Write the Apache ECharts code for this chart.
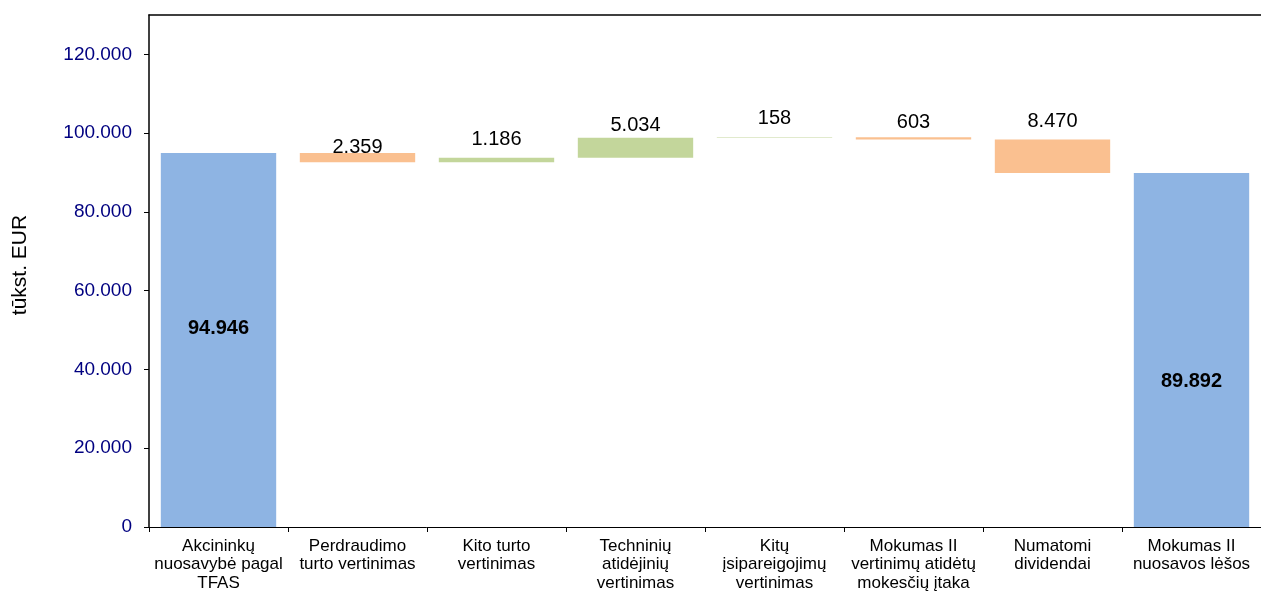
<!DOCTYPE html>
<html>
<head>
<meta charset="utf-8">
<script src="https://cdn.jsdelivr.net/npm/echarts@6/dist/echarts.min.js"></script>
<style>
  html, body { margin: 0; padding: 0; background: #fff; }
  #chart { width: 1261px; height: 591px; }
</style>
</head>
<body>
<div id="chart"></div>
<script>
// kategorijos
var categories = [
    'Akcininkų\nnuosavybė pagal\nTFAS',
    'Perdraudimo\nturto vertinimas',
    'Kito turto\nvertinimas',
    'Techninių\natidėjinių\nvertinimas',
    'Kitų\nįsipareigojimų\nvertinimas',
    'Mokumas II\nvertinimų atidėtų\nmokesčių įtaka',
    'Numatomi\ndividendai',
    'Mokumas II\nnuosavos lėšos'
];
var startValue = 94946;
var endValue = 89892;
// pokyčiai tarp pradžios ir pabaigos
var changes = [-2359, 1186, 5034, 158, -603, -8470];
var yTicks = [0, 20000, 40000, 60000, 80000, 100000, 120000];

function fmt(v) {
    return String(Math.abs(v)).replace(/\B(?=(\d{3})+(?!\d))/g, '.');
}

// pagalbinės eilės kriokliui
var base = ['-'], totals = [startValue], plus = ['-'], minus = ['-'];
var level = startValue;
changes.forEach(function (c) {
    if (c >= 0) {
        base.push(level);
        plus.push(c);
        minus.push('-');
    } else {
        base.push(level + c);
        plus.push('-');
        minus.push(-c);
    }
    totals.push('-');
    level += c;
});
base.push('-');
totals.push(endValue);
plus.push('-');
minus.push('-');

// nedideli etikečių poslinkiai kaip originale
var labelShift = { 1: 10, 2: -2, 3: 4, 4: -3, 5: 1, 6: -2 };
function withShift(arr) {
    return arr.map(function (v, i) {
        if (v === '-') return v;
        return { value: v, label: { offset: [0, labelShift[i] || 0] } };
    });
}

var chart = echarts.init(document.getElementById('chart'));
var deltaLabel = {
    show: true,
    position: 'top',
    distance: 6,
    color: '#000',
    fontSize: 20,
    fontFamily: 'Liberation Sans',
    formatter: function (p) { return fmt(p.value); }
};
var option = {
    animation: false,
    textStyle: { fontFamily: 'Liberation Sans' },
    grid: { left: 149, right: 0, top: 15, bottom: 64, outerBoundsMode: 'none' },
    xAxis: [{
        type: 'category',
        data: categories,
        axisLine: { lineStyle: { color: '#000', width: 1 } },
        axisTick: { show: true, length: 5, lineStyle: { color: '#000' } },
        axisLabel: {
            interval: 0,
            color: '#000',
            fontSize: 17,
            lineHeight: 18.5,
            margin: 10
        }
    }, {
        type: 'category',
        position: 'top',
        data: categories,
        axisLine: { show: true, lineStyle: { color: '#000', width: 1.5 } },
        axisTick: { show: false },
        axisLabel: { show: false }
    }],
    yAxis: {
        type: 'value',
        min: 0,
        max: 130000,
        interval: 20000,
        name: 'tūkst. EUR',
        nameLocation: 'middle',
        nameGap: 118,
        nameTextStyle: { color: '#000', fontSize: 21, padding: [0, 0, 0, 12] },
        axisLine: { show: true, lineStyle: { color: '#000', width: 1.5 } },
        axisTick: { show: true, length: 5, customValues: yTicks, lineStyle: { color: '#000' } },
        splitLine: { show: false },
        axisLabel: {
            color: '#000080',
            fontSize: 19,
            margin: 17,
            customValues: yTicks,
            formatter: function (v) { return fmt(v); }
        }
    },
    series: [
        {
            name: 'base',
            type: 'bar',
            stack: 'w',
            barCategoryGap: '17%',
            itemStyle: { color: 'transparent' },
            data: base
        },
        {
            name: 'total',
            type: 'bar',
            stack: 'w',
            itemStyle: { color: '#8eb4e3' },
            label: {
                show: true,
                position: 'inside',
                color: '#000',
                fontSize: 20,
                fontWeight: 'bold',
                formatter: function (p) { return fmt(p.value); }
            },
            data: [
                { value: totals[0], label: { offset: [0, -12] } },
                '-', '-', '-', '-', '-', '-',
                { value: totals[7], label: { offset: [0, 32] } }
            ]
        },
        {
            name: 'plus',
            type: 'bar',
            stack: 'w',
            itemStyle: { color: '#c3d69b' },
            label: deltaLabel,
            data: withShift(plus)
        },
        {
            name: 'minus',
            type: 'bar',
            stack: 'w',
            itemStyle: { color: '#fac090' },
            label: deltaLabel,
            data: withShift(minus)
        }
    ]
};
chart.setOption(option);
</script>
</body>
</html>
